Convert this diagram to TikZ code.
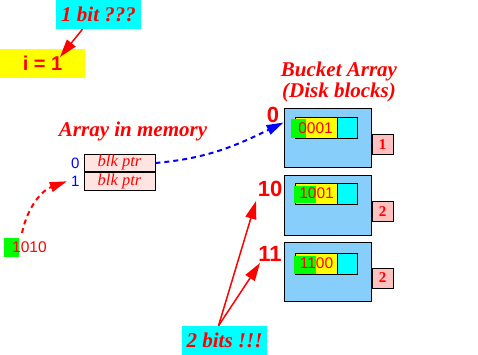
\documentclass[tikz,border=0pt]{standalone}
\usepackage{fontspec}
\setmainfont{Liberation Serif}
\setsansfont{Liberation Sans}
\usepackage{xcolor}
\usepackage{tikz}
\usetikzlibrary{arrows.meta,positioning}
\definecolor{hashRed}{RGB}{255,0,0}
\definecolor{hashBlue}{RGB}{0,0,255}
\definecolor{hashCyan}{RGB}{0,255,255}
\definecolor{hashYellow}{RGB}{255,255,0}
\definecolor{hashGreen}{RGB}{0,255,0}
\definecolor{diskBlue}{RGB}{135,206,250}
\definecolor{cellPink}{RGB}{255,228,225}
\definecolor{tagPink}{RGB}{255,192,192}

\begin{document}
\begin{tikzpicture}[x=1pt,y=-1pt,
  hint/.style={fill=hashCyan,text=hashRed,inner sep=0pt,minimum width=85pt,minimum height=29pt,font=\fontsize{21}{21}\selectfont\bfseries\itshape},
  title/.style={text=hashRed,inner sep=0pt,align=center,font=\fontsize{21}{21}\selectfont\bfseries\itshape},
  bucket/.style={draw=black,line width=1pt,fill=diskBlue,minimum width=87pt,minimum height=59pt,inner sep=0pt},
  depth/.style={draw=black,line width=1pt,fill=tagPink,text=hashRed,minimum width=21pt,minimum height=20pt,inner sep=0pt,font=\fontsize{15}{15}\selectfont\bfseries},
  ptrcell/.style={draw=black,line width=0.8pt,fill=cellPink,text=hashRed,minimum width=71pt,minimum height=17.5pt,inner sep=0pt,font=\fontsize{16.5}{16.5}\selectfont\itshape},
  idx/.style={text=hashBlue,inner sep=0pt,font=\fontsize{15}{15}\selectfont\sffamily},
  addr/.style={text=hashRed,inner sep=0pt,font=\fontsize{22}{22}\selectfont\sffamily\bfseries},
  hkey/.style={text=hashRed,inner sep=0pt,font=\fontsize{15.5}{15.5}\selectfont\sffamily},
  redarrow/.style={hashRed,line width=1.5pt,-{Triangle[length=18pt,width=11pt]}},
  dasharrow/.style={line width=2pt,dash pattern=on 5pt off 4pt,-{Triangle[length=17pt,width=10pt]}}]
\useasboundingbox (0,0) rectangle (478,355);

% global depth
\node[hint] (onebit) at (98.5,14.5) {1 bit ???};
\node[fill=hashYellow,text=hashRed,inner sep=0pt,minimum width=85pt,minimum height=29pt,
  font=\fontsize{20}{20}\selectfont\sffamily\bfseries] (gdepth) at (42.5,63.5) {i = 1};
\coordinate (gtip) at (60,57);
\draw[redarrow] ([xshift=-16pt]onebit.south) -- (gtip);

% directory in memory
\node[title] (dirtitle) at (133,131) {Array in memory};
\node[ptrcell] (cell0) at (119.5,163) {blk ptr};
\node[ptrcell,below=0pt of cell0] (cell1) {blk ptr};
\node[idx,left=4pt of cell0] (idx0) {0};
\node[idx,left=4pt of cell1] (idx1) {1};

% hashed key
\fill[hashGreen] (4,238) rectangle (19,257);
\node[hkey,anchor=west] (key) at (12,247) {1010};
\draw[dasharrow,hashRed] (22,233) to[out=78,in=200] ([xshift=-4pt]idx1.west);

% buckets on disk
\node[title] (bktitle) at (339,82) {Bucket Array\\(Disk blocks)};

\begin{scope}[shift={(284,109)}]
\node[bucket] (bk0) at (43.5,29.5) {};
\draw[fill=hashYellow,line width=0.9pt] (11,8) rectangle (73,29);
\draw[fill=hashCyan,line width=0.9pt] (53,8) rectangle (73,29);
\fill[hashGreen] (7,10) rectangle (22,29);
\node[hkey] (rec0) at (31.5,19) {0001};
\node[depth] (d0) at (98.5,35.5) {1};
\end{scope}

\begin{scope}[shift={(284,176)}]
\node[bucket] (bk1) at (43.5,29.5) {};
\draw[fill=hashYellow,line width=0.9pt] (11,7) rectangle (73,28);
\draw[fill=hashCyan,line width=0.9pt] (53,7) rectangle (73,28);
\fill[hashGreen] (10,10) rectangle (32,27);
\node[hkey] (rec1) at (32.5,17.5) {1001};
\node[depth] (d1) at (98.5,35.5) {2};
\end{scope}

\begin{scope}[shift={(284,242)}]
\node[bucket] (bk2) at (43.5,29.5) {};
\draw[fill=hashYellow,line width=0.9pt] (11,11) rectangle (73,32);
\draw[fill=hashCyan,line width=0.9pt] (53,11) rectangle (73,32);
\fill[hashGreen] (10,14) rectangle (32,32);
\node[hkey] (rec2) at (32.5,21.5) {1100};
\node[depth] (d2) at (98.5,36) {2};
\end{scope}

\node[addr] (a0) at (273,115) {0};
\node[addr] (a10) at (270,189) {10};
\node[addr] (a11) at (270,254) {11};

\draw[dasharrow,hashBlue] (cell0.east) to[out=5,in=206] ([yshift=-14pt]bk0.north west);

% local depth
\node[hint] (twobits) at (224.5,340.5) {2 bits !!!};
\coordinate (tip10) at (256,201);
\coordinate (tip11) at (260,263);
\draw[redarrow] ([xshift=-6pt]twobits.north) -- (tip10);
\draw[redarrow] ([xshift=-6pt]twobits.north) -- (tip11);
\end{tikzpicture}
\end{document}
